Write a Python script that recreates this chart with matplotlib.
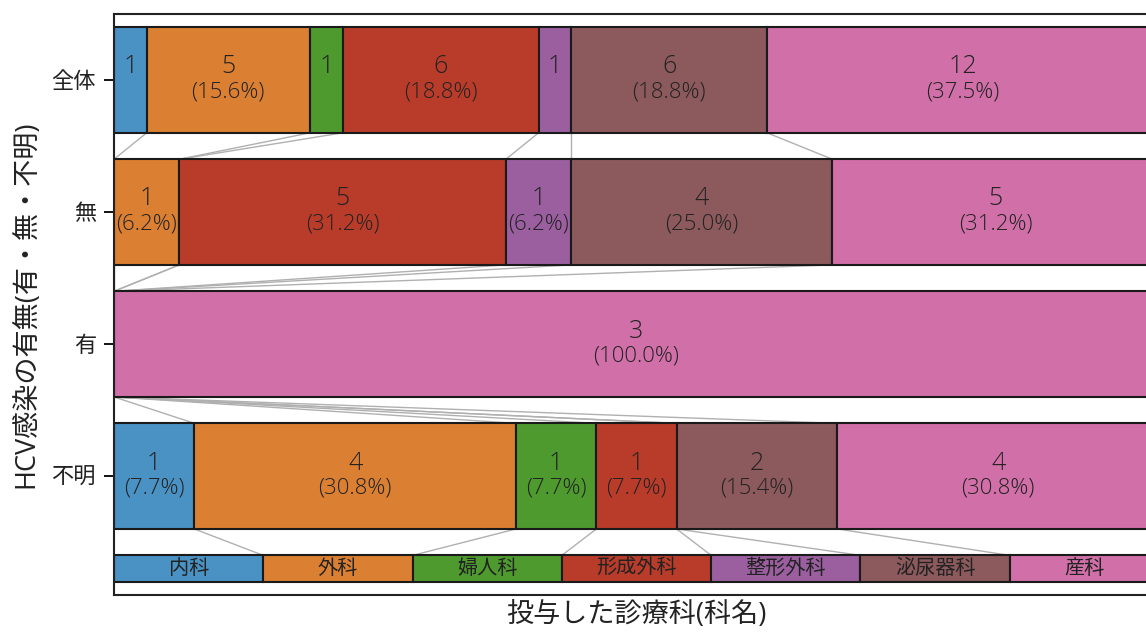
import numpy as np
import matplotlib
matplotlib.use("Agg")
import matplotlib.pyplot as plt

plt.rcParams['font.family'] = ['Open Sans', 'Noto Sans CJK JP', 'DejaVu Sans']

departments = ["内科", "外科", "婦人科", "形成外科", "整形外科", "泌尿器科", "産科"]
groups = ["全体", "無", "有", "不明"]
counts_all = [1, 5, 1, 6, 1, 6, 12]
counts_none = [0, 1, 0, 5, 1, 4, 5]
counts_yes = [0, 0, 0, 0, 0, 0, 3]
counts_unknown = [1, 4, 1, 1, 0, 2, 4]
colors = ["#4a92c4", "#db8032", "#4e9a2e", "#b93c2b", "#9b5fa0", "#8c595c", "#d06fa8"]

table = [counts_all, counts_none, counts_yes, counts_unknown]

fig = plt.figure(figsize=(11.46, 6.32), dpi=100)
ax = fig.add_axes([114 / 1146, 1 - 595 / 632, 1045 / 1146, (595 - 14) / 632])

bar_h = 0.8
edge = "#1a1a1a"
txt = "#222222"
bounds = []
for i, row in enumerate(table):
    row = np.asarray(row, dtype=float)
    total = row.sum()
    frac = row / total
    left = np.concatenate([[0], np.cumsum(frac)[:-1]])
    bounds.append(np.cumsum(frac))
    for j in range(len(row)):
        if row[j] == 0:
            continue
        ax.barh(i, frac[j], left=left[j], height=bar_h, color=colors[j],
                edgecolor=edge, linewidth=1.5, zorder=2)
        cx = left[j] + frac[j] / 2
        ax.text(cx, i - 0.05, f"{int(row[j])}", ha="center", va="baseline",
                fontsize=18, fontweight="light", color=txt, zorder=3)
        if frac[j] > 0.05:
            ax.text(cx, i + 0.13, f"({frac[j] * 100:.1f}%)", ha="center",
                    va="baseline", fontsize=16, fontweight="light",
                    color=txt, zorder=3)

# legend strip of department names
leg_y = 3.7
leg_h = 0.2
n = len(departments)
for j, name in enumerate(departments):
    ax.barh(leg_y, 1 / n, left=j / n, height=leg_h, color=colors[j],
            edgecolor=edge, linewidth=1.5, zorder=2)
    ax.text((j + 0.5) / n, leg_y + 0.005, name, ha="center", va="center",
            fontsize=14.5, color=txt, zorder=3)
bounds.append(np.arange(1, n + 1) / n)

# connector lines between category boundaries of consecutive bars
ys_mid = [0, 1, 2, 3, leg_y]
hs = [bar_h] * 4 + [leg_h]
for k in range(len(bounds) - 1):
    y0 = ys_mid[k] + hs[k] / 2
    y1 = ys_mid[k + 1] - hs[k + 1] / 2
    for b0, b1 in zip(bounds[k][:-1], bounds[k + 1][:-1]):
        ax.plot([b0, b1], [y0, y1], color="#b0b0b0", linewidth=1.0, zorder=1)

ax.set_xlim(0, 1)
ax.set_ylim(3.9, -0.5)
ax.set_yticks(range(len(groups)))
ax.set_yticklabels(groups, fontsize=16, color=txt)
ax.set_xticks([])
ax.tick_params(axis="y", length=7, width=1.3, pad=6)
for s in ax.spines.values():
    s.set_linewidth(1.5)
    s.set_color("#222222")
ax.set_ylabel("HCV感染の有無(有・無・不明)", fontsize=19.5, color=txt, labelpad=8)
ax.set_xlabel("投与した診療科(科名)", fontsize=19.5, color=txt, labelpad=4)

fig.savefig("out.png", dpi=100)
